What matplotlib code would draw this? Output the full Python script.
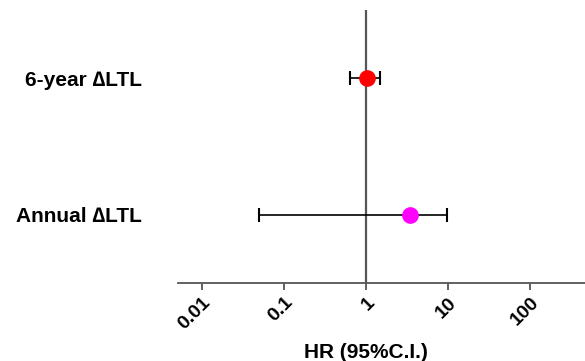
import matplotlib.pyplot as plt
import numpy as np

labels = ["Annual \u2206LTL", "6-year \u2206LTL"]
hr = [3.45, 1.02]
ci_low = [0.05, 0.64]
ci_high = [9.7, 1.48]
colors = ["#ff00ff", "#ff0000"]
xticks = [0.01, 0.1, 1, 10, 100]
xtick_labels = ["0.01", "0.1", "1", "10", "100"]

plt.rcParams['font.family'] = ['Liberation Sans', 'DejaVu Sans']
plt.rcParams['font.weight'] = 'bold'

fig = plt.figure(figsize=(5.85, 3.61), dpi=100)
ax = fig.add_axes([178 / 585, 78 / 361, 407 / 585, 273 / 361])

ypos = np.arange(1, len(labels) + 1)

# reference line at HR = 1
ax.axvline(1, color="#555555", lw=1.6, zorder=1)

for y, h, lo, hi, c in zip(ypos, hr, ci_low, ci_high, colors):
    ax.errorbar(h, y, xerr=[[h - lo], [hi - h]], fmt="none", ecolor="black",
                elinewidth=1.2, capsize=5, capthick=1.5, zorder=2)
    ax.plot(h, y, "o", color=c, markersize=11, zorder=3)

ax.set_xscale("log")
ax.set_xlim(10 ** -2.29, 10 ** 2.67)
ax.set_ylim(0.5, 2.5)

ax.set_xticks(xticks)
ax.set_xticklabels(xtick_labels, rotation=45, ha="right", rotation_mode="anchor",
                   fontsize=14, fontweight="bold")
ax.minorticks_off()
ax.tick_params(axis="x", length=5, width=1.3, color="#555555", pad=3)

ax.set_yticks(ypos)
ax.set_yticklabels(labels, fontsize=15, fontweight="bold")
ax.tick_params(axis="y", length=0, pad=26)

for s in ["top", "right", "left"]:
    ax.spines[s].set_visible(False)
ax.spines["bottom"].set_color("#555555")
ax.spines["bottom"].set_linewidth(1.3)

ax.set_xlabel("HR (95%C.I.)", fontsize=15, fontweight="bold", labelpad=0)
ax.xaxis.set_label_coords((366 - 178) / 407, -0.22)

fig.savefig("out.png", dpi=100)
